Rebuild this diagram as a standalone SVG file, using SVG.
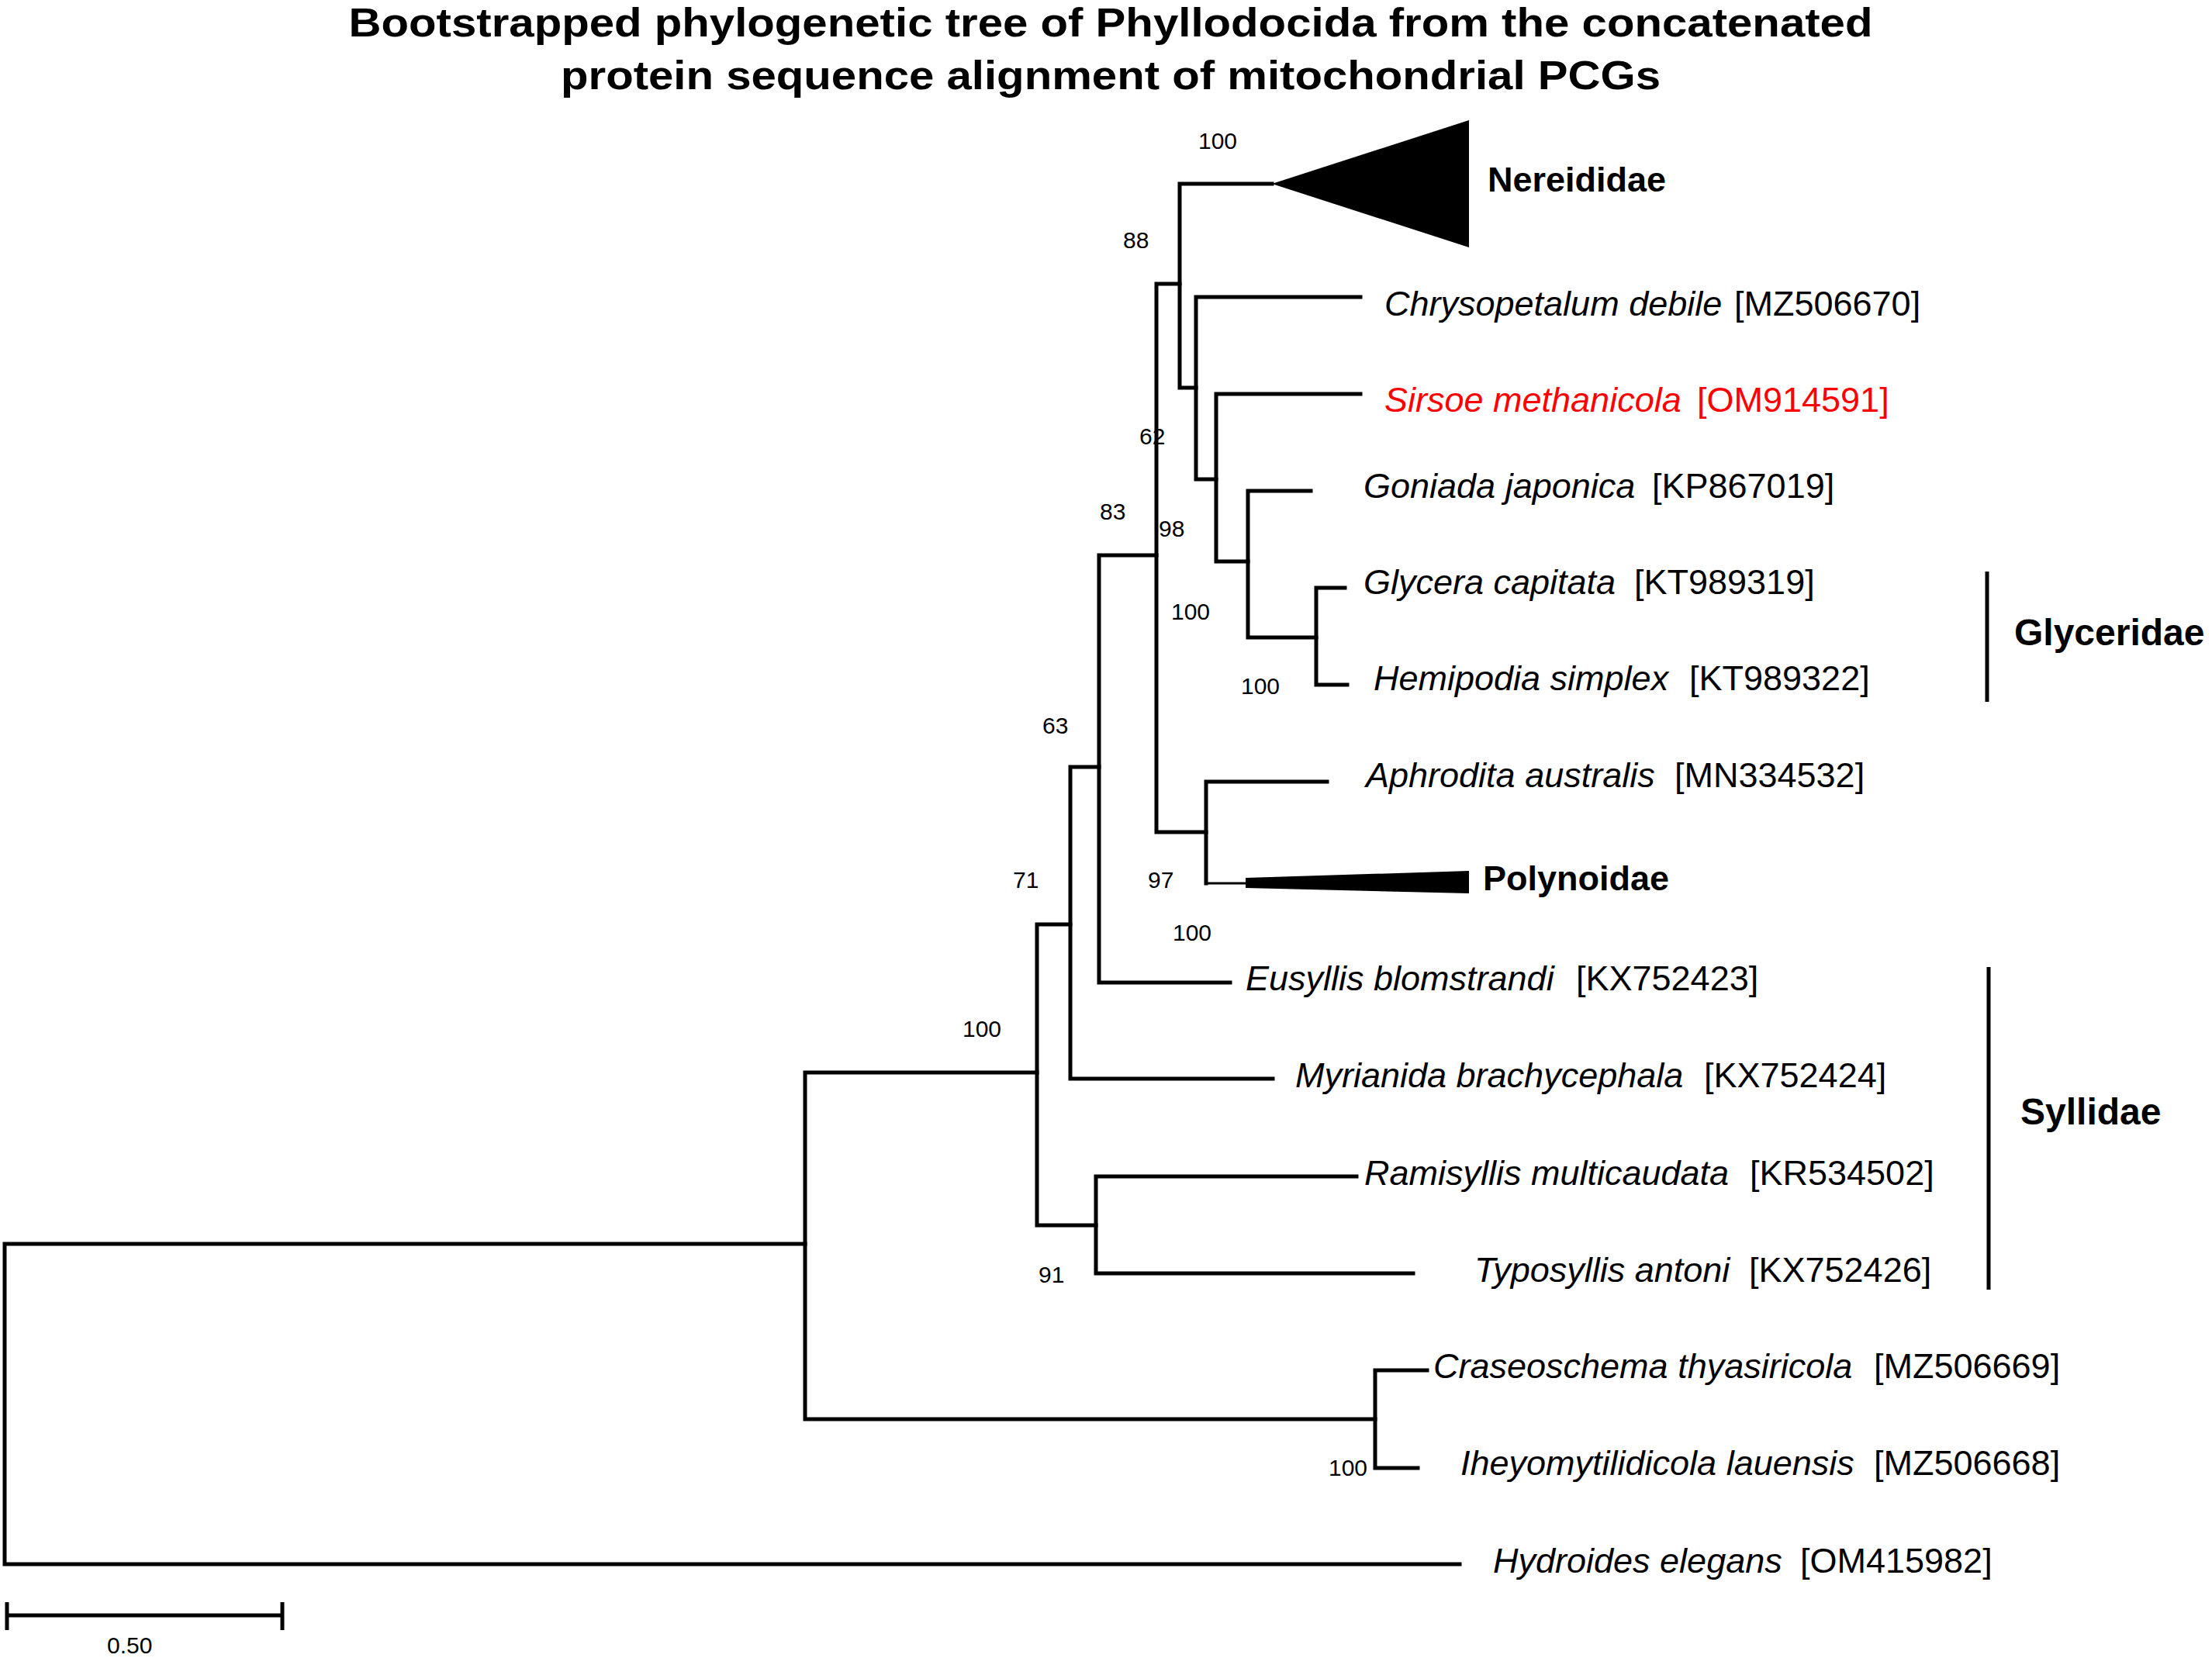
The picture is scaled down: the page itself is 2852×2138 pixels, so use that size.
<svg xmlns="http://www.w3.org/2000/svg" width="2852" height="2138" viewBox="0 0 2852 2138">
<style>
text{font-family:"Liberation Sans",Arial,Helvetica,sans-serif;fill:#000}
.title{font-size:52px;font-weight:bold;text-anchor:middle}
.tx{font-size:45px;font-style:italic}
.acc{font-size:45px}
.bs{font-size:30px}
.clade{font-weight:bold}
.br{fill:none;stroke:#000;stroke-width:5;stroke-linecap:square}
.red{fill:#ff0000}
</style>
<rect width="2852" height="2138" fill="#fff"/>
<g id="title">
<text class="title" x="1432" y="47" textLength="1965" lengthAdjust="spacingAndGlyphs">Bootstrapped phylogenetic tree of Phyllodocida from the concatenated</text>
<text class="title" x="1432" y="115" textLength="1418" lengthAdjust="spacingAndGlyphs">protein sequence alignment of mitochondrial PCGs</text>
</g>
<g id="connectors">
<path class="br" d="M1038 1604 H6 V2017 H1882"/>
<path class="br" d="M1337 1383 H1038 V1830 H1773"/>
<path class="br" d="M1840 1767 H1773 V1893 H1828"/>
<path class="br" d="M1380 1192 H1337 V1580 H1413"/>
<path class="br" d="M1749 1517 H1413 V1642 H1822"/>
<path class="br" d="M1417 989 H1380 V1391 H1641"/>
<path class="br" d="M1491 716 H1417 V1267 H1586"/>
<path class="br" d="M1521 366 H1491 V1073 H1555"/>
<path class="br" d="M1711 1008 H1555 V1139"/>
<path d="M1555 1139 H1608" fill="none" stroke="#000" stroke-width="3"/>
<path class="br" d="M1640 237 H1521 V500 H1542"/>
<path class="br" d="M1754 383 H1542 V618 H1568"/>
<path class="br" d="M1754 508 H1568 V724 H1609"/>
<path class="br" d="M1690 633 H1609 V822 H1697"/>
<path class="br" d="M1734 758 H1697 V883 H1737"/>
</g>
<g id="support">
<text class="bs" x="1545" y="192">100</text>
<text class="bs" x="1448" y="320">88</text>
<text class="bs" x="1469" y="573">62</text>
<text class="bs" x="1418" y="670">83</text>
<text class="bs" x="1494" y="692">98</text>
<text class="bs" x="1510" y="799">100</text>
<text class="bs" x="1600" y="895">100</text>
<text class="bs" x="1344" y="946">63</text>
<text class="bs" x="1306" y="1145">71</text>
<text class="bs" x="1480" y="1145">97</text>
<text class="bs" x="1512" y="1213">100</text>
<text class="bs" x="1241" y="1337">100</text>
<text class="bs" x="1339" y="1654">91</text>
<text class="bs" x="1713" y="1903">100</text>
</g>
<g id="nereididae">
<polygon points="1640,237 1894,155 1894,319" fill="#000"/>
<text class="acc clade" x="1918" y="247">Nereididae</text>
</g>
<g id="chrysopetalum">
<text class="tx" x="1785" y="407">Chrysopetalum debile</text>
<text class="acc" x="2236" y="407">[MZ506670]</text>
</g>
<g id="sirsoe">
<text class="tx red" x="1785" y="531">Sirsoe methanicola</text>
<text class="acc red" x="2188" y="531">[OM914591]</text>
</g>
<g id="goniada">
<text class="tx" x="1758" y="642">Goniada japonica</text>
<text class="acc" x="2130" y="642">[KP867019]</text>
</g>
<g id="glycera">
<text class="tx" x="1758" y="766">Glycera capitata</text>
<text class="acc" x="2107" y="766">[KT989319]</text>
</g>
<g id="hemipodia">
<text class="tx" x="1771" y="890">Hemipodia simplex</text>
<text class="acc" x="2178" y="890">[KT989322]</text>
</g>
<g id="aphrodita">
<text class="tx" x="1761" y="1015">Aphrodita australis</text>
<text class="acc" x="2159" y="1015">[MN334532]</text>
</g>
<g id="polynoidae">
<polygon points="1606,1132 1894,1123 1894,1152 1606,1145" fill="#000"/>
<text class="acc clade" x="1912" y="1148">Polynoidae</text>
</g>
<g id="eusyllis">
<text class="tx" x="1606" y="1277">Eusyllis blomstrandi</text>
<text class="acc" x="2032" y="1277">[KX752423]</text>
</g>
<g id="myrianida">
<text class="tx" x="1670" y="1402">Myrianida brachycephala</text>
<text class="acc" x="2197" y="1402">[KX752424]</text>
</g>
<g id="ramisyllis">
<text class="tx" x="1759" y="1528">Ramisyllis multicaudata</text>
<text class="acc" x="2256" y="1528">[KR534502]</text>
</g>
<g id="typosyllis">
<text class="tx" x="1901" y="1653">Typosyllis antoni</text>
<text class="acc" x="2255" y="1653">[KX752426]</text>
</g>
<g id="craseoschema">
<text class="tx" x="1848" y="1777">Craseoschema thyasiricola</text>
<text class="acc" x="2416" y="1777">[MZ506669]</text>
</g>
<g id="iheyomytilidicola">
<text class="tx" x="1883" y="1902">Iheyomytilidicola lauensis</text>
<text class="acc" x="2416" y="1902">[MZ506668]</text>
</g>
<g id="hydroides">
<text class="tx" x="1925" y="2028">Hydroides elegans</text>
<text class="acc" x="2321" y="2028">[OM415982]</text>
</g>
<g id="glyceridae">
<path d="M2562 737 V905" stroke="#000" stroke-width="5"/>
<text class="clade" x="2597" y="832" font-size="48">Glyceridae</text>
</g>
<g id="syllidae">
<path d="M2564 1247 V1663" stroke="#000" stroke-width="5"/>
<text class="clade" x="2605" y="1450" font-size="48">Syllidae</text>
</g>
<g id="scalebar">
<path d="M9 2083 H364 M9 2066 V2102 M364 2066 V2102" fill="none" stroke="#000" stroke-width="5"/>
<text class="bs" x="138" y="2132">0.50</text>
</g>
</svg>
